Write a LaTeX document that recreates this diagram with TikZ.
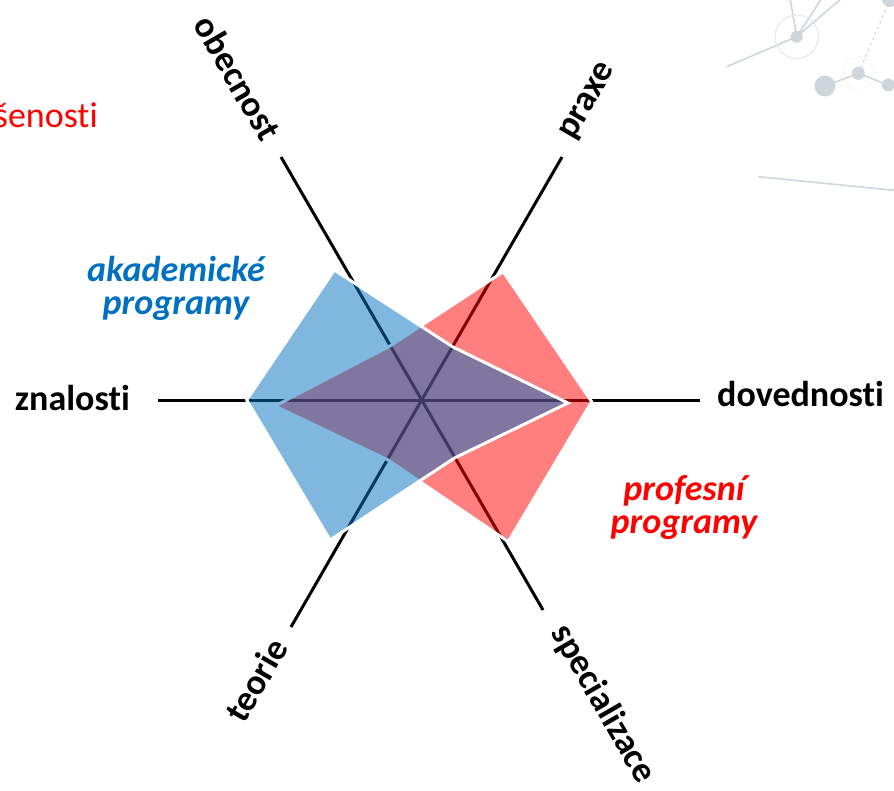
\documentclass[tikz,border=0pt]{standalone}
\usepackage{fontspec}
\setmainfont[Ligatures=NoCommon]{Carlito}
\usetikzlibrary{calc}

\definecolor{akablue}{RGB}{0,112,192}
\definecolor{profred}{RGB}{255,0,0}
\definecolor{decogrey}{RGB}{206,214,220}
\definecolor{decolight}{RGB}{226,231,235}

\begin{document}
\begin{tikzpicture}[x=1pt,y=-1pt,
                    axis line/.style={line width=3pt,black},
                    axis label/.style={font=\bfseries\fontsize{36}{36}\selectfont,inner sep=0pt},
                    prog label/.style={font=\bfseries\itshape\fontsize{36}{33}\selectfont,
                            align=center,inner sep=0pt},
                    area/.style={line width=3pt,draw=white,fill opacity=0.5,line join=miter},
                    deco/.style={decogrey,line width=1.6pt}]

                \useasboundingbox (0,0) rectangle (894,790);
                \clip (0,0) rectangle (894,790);

                \draw[deco] (726.7,66.7) -- (796.7,36.7);
                \draw[deco] (796.7,36.7) -- (790,-2);
                \draw[deco] (796.7,36.7) -- (822,-2);
                \draw[deco] (796.7,36.7) -- (842,-2);
                \draw[decolight,line width=1pt] (796.7,36.7) circle (21.7);
                \fill[decogrey] (796.7,36.7) circle (6);
                \draw[deco] (825,86) -- (858.3,73.3) -- (888.3,85);
                \draw[decogrey,line width=1pt,dashed] (858.3,73.3) -- (890,0);
                \draw[decolight,line width=1pt,dotted] (858.3,73.3) circle (16);
                \fill[decogrey] (825,86) circle (10.5);
                \fill[decogrey] (858.3,73.3) circle (6.5);
                \fill[decogrey] (888.3,85) circle (6.5);
                \fill[decogrey] (890,-1) circle (8);
                \draw[deco] (758.3,176.7) -- (894,190.3);

                \node[anchor=base east,inner sep=0pt,text=profred,
                      font=\fontsize{36}{36}\selectfont] (zkus) at (98,127) {zkušenosti};

                \coordinate (c) at (421.7,400);
                \coordinate (znal) at (158,400);
                \coordinate (dov) at (700,400);
                \coordinate (obec) at (281,157);
                \coordinate (prax) at (562,157);
                \coordinate (teor) at (291,627);
                \coordinate (spec) at (543,610);

                \foreach \a in {znal,dov,obec,prax,teor,spec}
                    \draw[axis line] (c) -- (\a);

                \filldraw[area,fill=profred] (275,406) -- (390,346) -- (503.3,271.7)
                    -- (591.7,401.7) -- (508.3,541.7) -- (388,460) -- cycle;
                \filldraw[area,fill=akablue] (246.7,400) -- (334.3,270) -- (453,347)
                    -- (568,403) -- (454.5,458) -- (330,540) -- cycle;

                \node[axis label,anchor=base east] (znalosti) at (130,410) {znalosti};
                \node[axis label,anchor=base west] (dovednosti) at (717,406) {dovednosti};
                \node[axis label,rotate=-60] (obecnost) at (238,78) {obecnost};
                \node[axis label,rotate=60] (praxe) at (589,102) {praxe};
                \node[axis label,rotate=60] (teorie) at (256,680) {teorie};
                \node[axis label,rotate=-60] (specializace) at (603,704) {specializace};

                \node[prog label,text=akablue] (akad) at (176,288) {akademické\\programy};
                \node[prog label,text=profred] (prof) at (684,508) {profesní\\programy};
            \end{tikzpicture}
\end{document}
